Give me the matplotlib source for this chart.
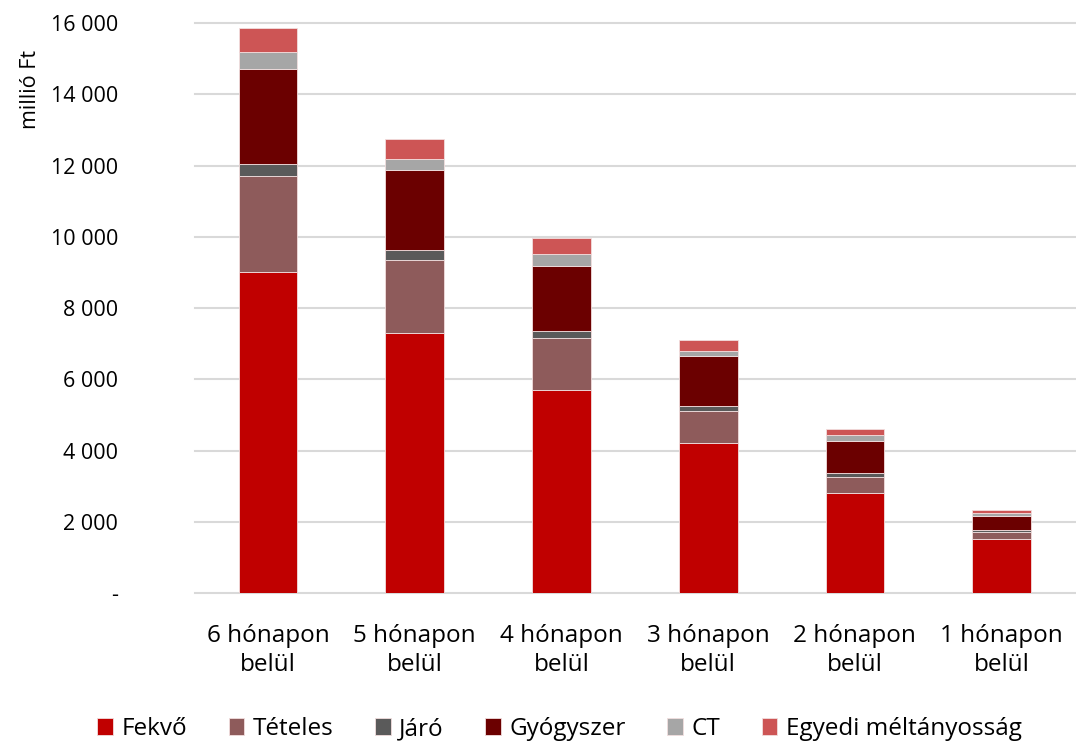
import matplotlib.pyplot as plt
import numpy as np

plt.rcParams['font.family'] = ['Open Sans', 'DejaVu Sans']

categories = ["6 hónapon\nbelül", "5 hónapon\nbelül", "4 hónapon\nbelül",
              "3 hónapon\nbelül", "2 hónapon\nbelül", "1 hónapon\nbelül"]
series_names = ["Fekvő", "Tételes", "Járó", "Gyógyszer", "CT", "Egyedi méltányosság"]
fekvo = [9000, 7300, 5710, 4200, 2800, 1530]
teteles = [2710, 2045, 1440, 900, 450, 180]
jaro = [340, 280, 210, 150, 110, 60]
gyogyszer = [2650, 2245, 1830, 1410, 920, 400]
ct = [500, 320, 330, 140, 160, 85]
egyedi = [670, 560, 440, 310, 160, 75]
colors = ["#C00000", "#8E5B5B", "#5A5A5A", "#6B0000", "#A6A6A6", "#CD5555"]
yticks = [0, 2000, 4000, 6000, 8000, 10000, 12000, 14000, 16000]

fig = plt.figure(figsize=(10.76, 7.48), dpi=100)
ax = fig.add_axes([0.181, 0.2072, 0.818, 0.762])

x = np.arange(len(categories))
bottom = np.zeros(len(categories))
for name, vals, col in zip(series_names, [fekvo, teteles, jaro, gyogyszer, ct, egyedi], colors):
    ax.bar(x, vals, 0.4, bottom=bottom, color=col, label=name,
           edgecolor="#f2dede", linewidth=0.6, zorder=3)
    bottom += np.array(vals)

ax.set_xlim(-0.5, 5.5)
ax.set_ylim(0, 16000)
ax.set_yticks(yticks)
ax.set_yticklabels(["-" if v == 0 else f"{v:,}".replace(",", " ") for v in yticks])
ax.set_xticks(x)
ax.set_xticklabels(categories, linespacing=1.3)
ax.tick_params(axis="both", length=0, colors="black")
ax.tick_params(axis="y", pad=55, labelsize=15.5)
ax.tick_params(axis="x", pad=22, labelsize=17.5)
for lab in ax.get_yticklabels():
    lab.set_horizontalalignment("right")
ax.grid(axis="y", color="#d9d9d9", linewidth=1.5, zorder=0)
for gl in ax.get_ygridlines():
    gl.set_clip_on(False)
for s in ax.spines.values():
    s.set_visible(False)

fig.text(0.028, 0.88, "millió Ft", rotation=90, ha="center", va="center", fontsize=15.5)

fig.legend(loc="lower center", ncol=6, bbox_to_anchor=(0.52, -0.02), frameon=False,
           fontsize=17.5, handlelength=0.65, handleheight=0.65, handletextpad=0.35,
           columnspacing=1.7)

fig.savefig("out.png", dpi=100)
